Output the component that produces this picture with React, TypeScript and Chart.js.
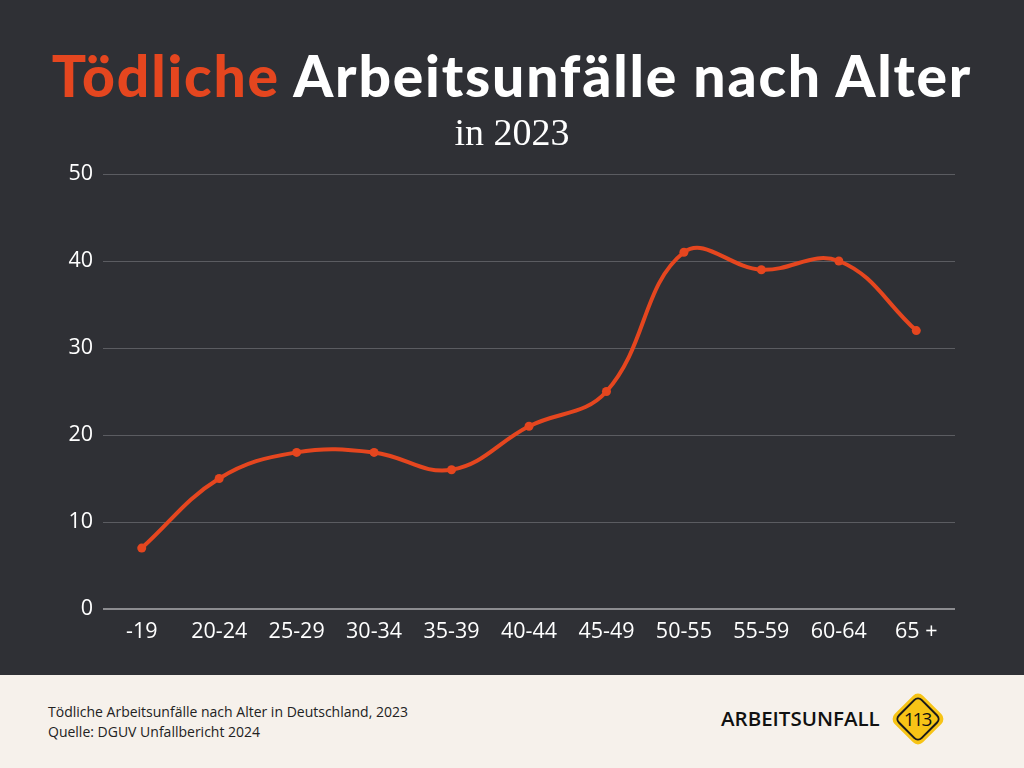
import React, { useEffect, useRef } from "react";
import { Chart, registerables } from "chart.js";

Chart.register(...registerables);

const categories = ["-19", "20-24", "25-29", "30-34", "35-39", "40-44", "45-49", "50-55", "55-59", "60-64", "65 +"];
const deaths = [7, 15, 18, 18, 16, 21, 25, 41, 39, 40, 32];
const yTicks = [0, 10, 20, 30, 40, 50];

const BG = "#2f3035";
const ORANGE = "#e5461f";
const FOOT = "#f6f1eb";

export default function App() {
  const ref = useRef<HTMLCanvasElement | null>(null);

  useEffect(() => {
    document.body.style.margin = "0";
    const ctx = ref.current!;
    const chart = new Chart(ctx, {
      type: "line",
      data: {
        labels: categories,
        datasets: [
          {
            data: deaths,
            borderColor: ORANGE,
            backgroundColor: ORANGE,
            borderWidth: 4,
            tension: 0.4,
            pointRadius: 4.5,
            pointBackgroundColor: ORANGE,
            pointBorderColor: ORANGE,
            pointBorderWidth: 0,
          },
        ],
      },
      options: {
        animation: false,
        responsive: false,
        maintainAspectRatio: false,
        layout: { padding: { top: 174, right: 69, left: 0, bottom: 0 } },
        plugins: { legend: { display: false }, tooltip: { enabled: false } },
        scales: {
          x: {
            offset: true,
            grid: { display: false, drawTicks: false },
            border: { display: false },
            ticks: {
              color: "#ffffff",
              padding: 10,
              font: { family: "'Open Sans', sans-serif", size: 21.5 },
              maxRotation: 0,
              autoSkip: false,
            },
            afterFit: (s: any) => {
              s.height = 66;
            },
          },
          y: {
            min: 0,
            max: 50,
            afterBuildTicks: (s: any) => {
              s.ticks = yTicks.map((v) => ({ value: v }));
            },
            grid: {
              drawTicks: false,
              lineWidth: (c: any) => (c.tick && c.tick.value === 0 ? 2 : 1),
              color: (c: any) => (c.tick && c.tick.value === 0 ? "#8c8c90" : "#5b5c61"),
            },
            border: { display: false },
            ticks: {
              color: "#ffffff",
              padding: 10,
              font: { family: "'Open Sans', sans-serif", size: 21.5 },
            },
            afterFit: (s: any) => {
              s.width = 103;
            },
          },
        },
      },
    });
    return () => chart.destroy();
  }, []);

  return (
    <div style={{ position: "absolute", left: 0, top: 0, width: 1024, height: 768, background: BG, overflow: "hidden" }}>
      <canvas ref={ref} width={1024} height={675} style={{ position: "absolute", left: 0, top: 0, width: 1024, height: 675 }} />
      <div
        style={{
          position: "absolute",
          left: 0,
          top: 42,
          width: 1024,
          textAlign: "center",
          fontFamily: "Lato, sans-serif",
          fontWeight: 900,
          fontSize: 57,
          lineHeight: "66px",
          color: "#ffffff",
          letterSpacing: 1.8,
          whiteSpace: "nowrap",
        }}
      >
        <span style={{ color: ORANGE }}>Tödliche</span> Arbeitsunfälle nach Alter
      </div>
      <div
        style={{
          position: "absolute",
          left: 0,
          top: 108,
          width: 1024,
          textAlign: "center",
          fontFamily: "'Liberation Serif', serif",
          fontSize: 38,
          lineHeight: "48px",
          color: "#ffffff",
        }}
      >
        in 2023
      </div>
      <div style={{ position: "absolute", left: 0, top: 675, width: 1024, height: 93, background: FOOT }}>
        <div
          style={{
            position: "absolute",
            left: 48,
            top: 27,
            fontFamily: "'Open Sans', sans-serif",
            fontSize: 14,
            lineHeight: "20px",
            color: "#222",
          }}
        >
          Tödliche Arbeitsunfälle nach Alter in Deutschland, 2023
          <br />
          Quelle: DGUV Unfallbericht 2024
        </div>
        <div
          style={{
            position: "absolute",
            left: 721,
            top: 29,
            fontFamily: "'Open Sans', sans-serif",
            fontWeight: 600,
            fontSize: 20.5,
            lineHeight: "28px",
            color: "#111",
          }}
        >
          ARBEITSUNFALL
        </div>
        <div
          style={{
            position: "absolute",
            left: 898,
            top: 24,
            width: 40,
            height: 40,
            background: "#f7c416",
            borderRadius: 7,
            transform: "rotate(45deg)",
          }}
        />
        <div
          style={{
            position: "absolute",
            left: 901,
            top: 27,
            width: 34,
            height: 34,
            border: "2px solid #1a1a1a",
            boxSizing: "border-box",
            borderRadius: 6,
            transform: "rotate(45deg)",
          }}
        />
        <div
          style={{
            position: "absolute",
            left: 893,
            top: 30,
            width: 50,
            textAlign: "center",
            fontFamily: "'Open Sans', sans-serif",
            fontWeight: 500,
            fontSize: 19,
            lineHeight: "28px",
            color: "#111",
            letterSpacing: -2,
            textIndent: -2,
          }}
        >
          113
        </div>
      </div>
    </div>
  );
}
